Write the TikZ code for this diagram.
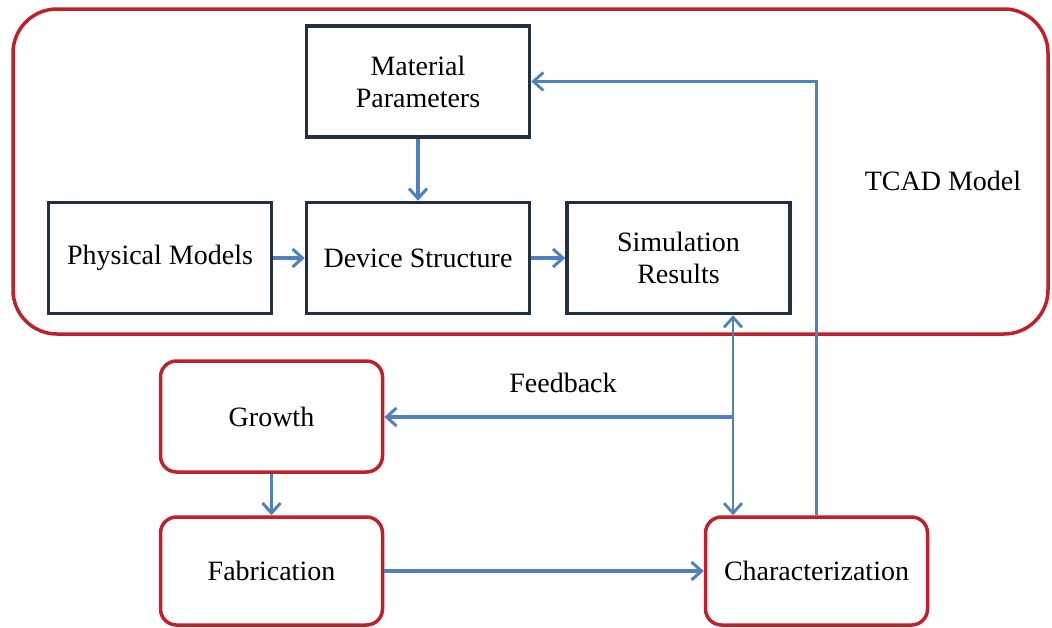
\documentclass[tikz,border=0pt]{standalone}
\usepackage{fontspec}
\setmainfont{Liberation Serif}
\usetikzlibrary{arrows.meta}
\definecolor{arrowblue}{RGB}{79,129,189}
\definecolor{boxdark}{RGB}{35,48,66}
\definecolor{redline}{RGB}{192,32,42}
\begin{document}
\begin{tikzpicture}[x=1pt,y=-1pt,
  every node/.style={font=\fontsize{28}{32}\selectfont},
  sqbox/.style={draw=boxdark,line width=3.5pt,minimum width=223pt,minimum height=111pt,align=center,inner sep=0pt},
  rbox/.style={draw=redline,line width=3.5pt,rounded corners=16pt,minimum width=222pt,align=center,inner sep=0pt},
  tip/.style={Straight Barb[length=10pt,width=18pt,line width=3pt]},
  conn/.style={draw=arrowblue,line width=3.5pt,-{Straight Barb[length=10pt,width=18pt,line width=3pt]}},
  thinconn/.style={draw=arrowblue,line width=2.8pt}
]
\useasboundingbox (0,0) rectangle (1052,627);
\draw[redline,line width=3.5pt,rounded corners=44pt] (13,9) rectangle (1048,334);
\node[sqbox] (mat) at (418,81.5) {Material\\Parameters};
\node[sqbox] (phys) at (160,258) {Physical Models};
\node[sqbox] (dev) at (418,258) {Device Structure};
\node[sqbox] (sim) at (678.5,258) {Simulation\\Results};
\node (tcad) at (943,181) {TCAD Model};
\node[rbox,minimum height=111pt] (growth) at (271.5,416.5) {Growth};
\node[rbox,minimum height=108pt] (fab) at (271.5,571) {Fabrication};
\node[rbox,minimum height=108pt] (char) at (816.5,571) {Characterization};
\node (fbl) at (563,383) {Feedback};
\coordinate (fb) at (733,417);
\draw[conn] (mat.south) -- (dev.north);
\draw[conn] (phys.east) -- (dev.west);
\draw[conn] (dev.east) -- (sim.west);
\draw[conn] (growth.south) -- (fab.north);
\draw[conn] (fab.east) -- (char.west);
\draw[thinconn,{Straight Barb[length=10pt,width=18pt,line width=2.8pt]}-{Straight Barb[length=10pt,width=18pt,line width=2.8pt]}] (fb |- sim.south) -- (fb |- char.north);
\draw[conn] (fb) -- (growth.east |- fb);
\draw[thinconn,-{Straight Barb[length=10pt,width=18pt,line width=2.8pt]}] (char.north) |- (mat.east);
\end{tikzpicture}
\end{document}
